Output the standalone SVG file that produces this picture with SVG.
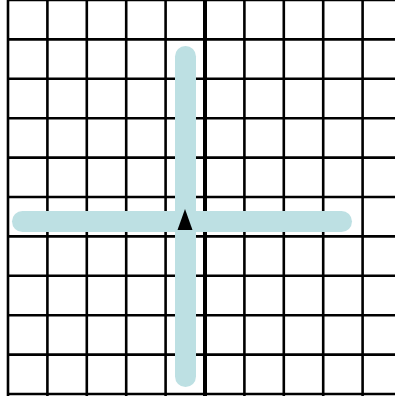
<svg xmlns="http://www.w3.org/2000/svg" width="395" height="396" viewBox="0 0 395 396">
<style>
.g{stroke:#000;stroke-width:2.6}
.ax{stroke:#000;stroke-width:4}
.p{stroke:#bde0e3;stroke-width:21;stroke-linecap:round;fill:none}
</style>
<rect width="395" height="396" fill="#fff"/>
<g id="grid">
<line class="g" x1="8" y1="0" x2="8" y2="396"/>
<line class="g" x1="47.4" y1="0" x2="47.4" y2="396"/>
<line class="g" x1="86.8" y1="0" x2="86.8" y2="396"/>
<line class="g" x1="126.2" y1="0" x2="126.2" y2="396"/>
<line class="g" x1="165.6" y1="0" x2="165.6" y2="396"/>
<line class="ax" x1="205" y1="0" x2="205" y2="396"/>
<line class="g" x1="244.4" y1="0" x2="244.4" y2="396"/>
<line class="g" x1="283.8" y1="0" x2="283.8" y2="396"/>
<line class="g" x1="323.2" y1="0" x2="323.2" y2="396"/>
<line class="g" x1="362.6" y1="0" x2="362.6" y2="396"/>
<line class="g" x1="8" y1="0" x2="395" y2="0"/>
<line class="g" x1="8" y1="39.4" x2="395" y2="39.4"/>
<line class="g" x1="8" y1="78.8" x2="395" y2="78.8"/>
<line class="g" x1="8" y1="118.2" x2="395" y2="118.2"/>
<line class="g" x1="8" y1="157.6" x2="395" y2="157.6"/>
<line class="g" x1="8" y1="197" x2="395" y2="197"/>
<line class="g" x1="8" y1="236.4" x2="395" y2="236.4"/>
<line class="g" x1="8" y1="275.8" x2="395" y2="275.8"/>
<line class="g" x1="8" y1="315.2" x2="395" y2="315.2"/>
<line class="g" x1="8" y1="354.6" x2="395" y2="354.6"/>
<line class="g" x1="8" y1="394" x2="395" y2="394"/>
</g>
<g id="connectors">
<line class="p" x1="185.5" y1="56.5" x2="185.5" y2="376.5"/>
<line class="p" x1="22.5" y1="221.5" x2="341.5" y2="221.5"/>
</g>
<g id="turtle">
<polygon points="185,209 177.5,230 192.5,230" fill="#000"/>
</g>
</svg>
